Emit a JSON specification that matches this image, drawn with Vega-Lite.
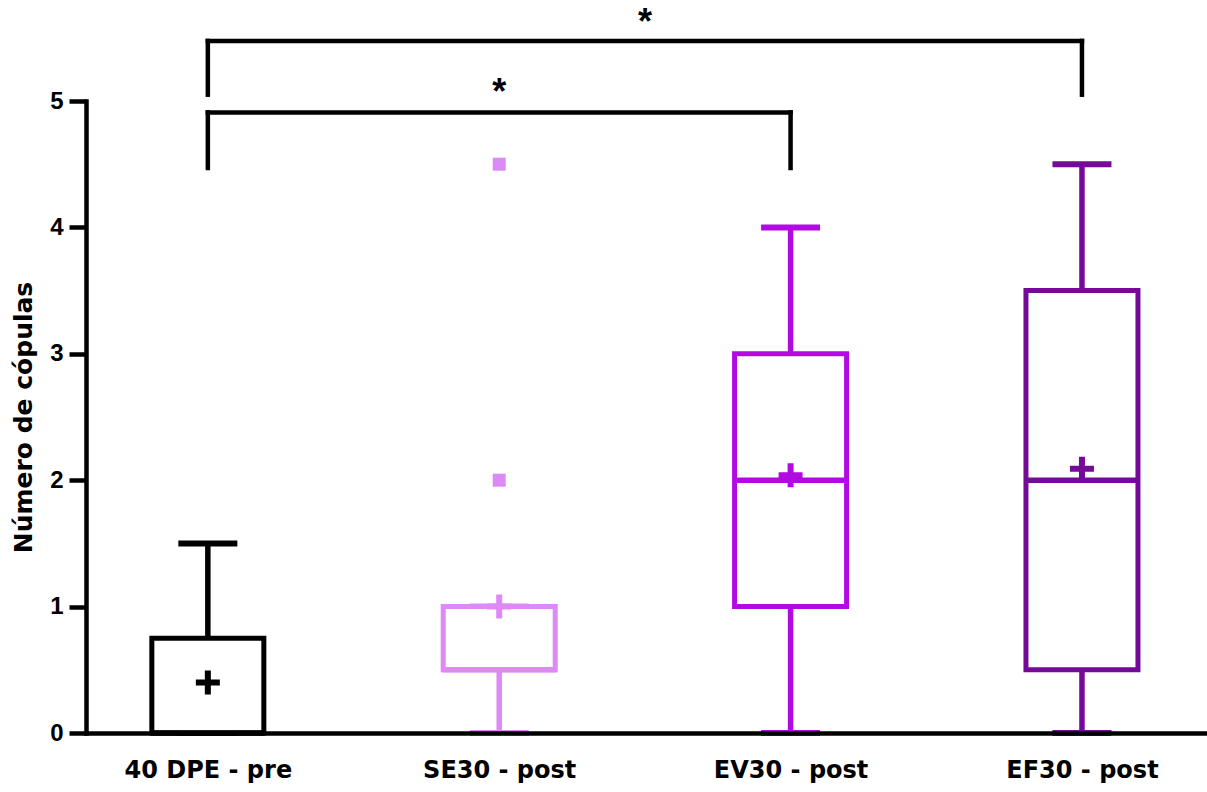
{
  "$schema": "https://vega.github.io/schema/vega-lite/v6.json",
  "width": 1121,
  "height": 632,
  "autosize": {"type": "none"},
  "padding": {"left": 86, "top": 101, "right": 0, "bottom": 59},
  "background": "white",
  "config": {"view": {"stroke": null}},
  "datasets": {
    "stats": [
      {"group": "40 DPE - pre", "i": 0, "min": 0, "q1": 0, "median": 0, "q3": 0.75, "max": 1.5, "mean": 0.4},
      {"group": "SE30 - post", "i": 1, "min": 0, "q1": 0.5, "median": 0.5, "q3": 1, "max": 1, "mean": 1.0},
      {"group": "EV30 - post", "i": 2, "min": 0, "q1": 1, "median": 2, "q3": 3, "max": 4, "mean": 2.04},
      {"group": "EF30 - post", "i": 3, "min": 0, "q1": 0.5, "median": 2, "q3": 3.5, "max": 4.5, "mean": 2.09}
    ],
    "outliers": [
      {"group": "SE30 - post", "i": 1, "value": 2},
      {"group": "SE30 - post", "i": 1, "value": 4.5}
    ],
    "brackets": [
      {"from": 0, "to": 3, "y": 5.475, "y2": 5.475},
      {"from": 0, "to": 0, "y": 5.05, "y2": 5.475},
      {"from": 3, "to": 3, "y": 5.05, "y2": 5.475},
      {"from": 0, "to": 2, "y": 4.91, "y2": 4.91},
      {"from": 0, "to": 0, "y": 4.47, "y2": 4.91},
      {"from": 2, "to": 2, "y": 4.47, "y2": 4.91}
    ],
    "stars": [
      {"i": 1.5, "y": 5.53, "label": "*"},
      {"i": 1, "y": 4.975, "label": "*"}
    ]
  },
  "layer": [
    {
      "data": {"name": "stats"},
      "mark": {"type": "rule", "strokeWidth": 5.5, "strokeCap": "butt"},
      "encoding": {
        "x": {
          "field": "i", "type": "quantitative",
          "scale": {"domain": [-0.401, 3.412], "nice": false, "zero": false},
          "axis": {
            "title": null, "values": [0, 1, 2, 3], "zindex": 1,
            "labelExpr": "['40 DPE - pre','SE30 - post','EV30 - post','EF30 - post'][datum.value]",
            "ticks": false, "tickSize": 0, "grid": false,
            "domainColor": "black", "domainWidth": 4.5, "domainCap": "square",
            "labelFont": "DejaVu Sans", "labelFontWeight": "bold", "labelFontSize": 24,
            "labelColor": "black", "labelPadding": 44, "labelBaseline": "alphabetic",
            "labelFlush": false, "labelOverlap": false
          }
        },
        "y": {
          "field": "q3", "type": "quantitative",
          "scale": {"domain": [0, 5], "nice": false},
          "axis": {
            "title": "Número de cópulas", "values": [0, 1, 2, 3, 4, 5], "format": "d", "zindex": 1,
            "grid": false, "tickSize": 17, "tickWidth": 4.5, "tickColor": "black",
            "domainColor": "black", "domainWidth": 4.5, "domainCap": "square",
            "labelFont": "Liberation Sans", "labelFontWeight": "bold", "labelFontSize": 24,
            "labelColor": "black", "labelPadding": 6, "labelFlush": false,
            "titleFont": "DejaVu Sans", "titleFontSize": 25, "titleFontWeight": "bold",
            "titleColor": "black", "titlePadding": 13
          }
        },
        "y2": {"field": "max"},
        "color": {
          "field": "group", "type": "nominal", "legend": null,
          "scale": {"domain": ["40 DPE - pre", "SE30 - post", "EV30 - post", "EF30 - post"], "range": ["#000000", "#DE8AF6", "#B00BE0", "#760A98"]}
        }
      }
    },
    {
      "data": {"name": "stats"},
      "mark": {"type": "rule", "strokeWidth": 5.5, "strokeCap": "butt"},
      "encoding": {
        "x": {"field": "i", "type": "quantitative"},
        "y": {"field": "min", "type": "quantitative"},
        "y2": {"field": "q1"},
        "color": {"field": "group", "type": "nominal", "legend": null}
      }
    },
    {
      "data": {"name": "stats"},
      "mark": {"type": "tick", "orient": "horizontal", "size": 59, "thickness": 6, "opacity": 1},
      "encoding": {
        "x": {"field": "i", "type": "quantitative"},
        "y": {"field": "max", "type": "quantitative"},
        "color": {"field": "group", "type": "nominal", "legend": null}
      }
    },
    {
      "data": {"name": "stats"},
      "mark": {"type": "tick", "orient": "horizontal", "size": 59, "thickness": 6, "opacity": 1},
      "encoding": {
        "x": {"field": "i", "type": "quantitative"},
        "y": {"field": "min", "type": "quantitative"},
        "color": {"field": "group", "type": "nominal", "legend": null}
      }
    },
    {
      "data": {"name": "stats"},
      "mark": {"type": "bar", "orient": "vertical", "width": 112, "fill": "white", "strokeWidth": 5, "opacity": 1},
      "encoding": {
        "x": {"field": "i", "type": "quantitative"},
        "y": {"field": "q1", "type": "quantitative"},
        "y2": {"field": "q3"},
        "stroke": {
          "field": "group", "type": "nominal", "legend": null,
          "scale": {"domain": ["40 DPE - pre", "SE30 - post", "EV30 - post", "EF30 - post"], "range": ["#000000", "#DE8AF6", "#B00BE0", "#760A98"]}
        }
      }
    },
    {
      "data": {"name": "stats"},
      "mark": {"type": "tick", "orient": "horizontal", "size": 114, "thickness": 5.5, "opacity": 1},
      "encoding": {
        "x": {"field": "i", "type": "quantitative"},
        "y": {"field": "median", "type": "quantitative"},
        "color": {"field": "group", "type": "nominal", "legend": null}
      }
    },
    {
      "data": {"name": "stats"},
      "mark": {"type": "point", "shape": "M-1,0H1M0,-1V1", "filled": false, "size": 576, "strokeWidth": 6, "strokeCap": "butt", "opacity": 1},
      "encoding": {
        "x": {"field": "i", "type": "quantitative"},
        "y": {"field": "mean", "type": "quantitative"},
        "color": {"field": "group", "type": "nominal", "legend": null}
      }
    },
    {
      "data": {"name": "outliers"},
      "mark": {"type": "point", "shape": "square", "filled": true, "size": 169, "opacity": 1},
      "encoding": {
        "x": {"field": "i", "type": "quantitative"},
        "y": {"field": "value", "type": "quantitative"},
        "color": {"field": "group", "type": "nominal", "legend": null}
      }
    },
    {
      "data": {"name": "brackets"},
      "mark": {"type": "rule", "color": "black", "strokeWidth": 4.5, "strokeCap": "square"},
      "encoding": {
        "x": {"field": "from", "type": "quantitative"},
        "x2": {"field": "to"},
        "y": {"field": "y", "type": "quantitative"},
        "y2": {"field": "y2"}
      }
    },
    {
      "data": {"name": "stars"},
      "mark": {"type": "text", "font": "Liberation Sans", "fontWeight": "bold", "fontSize": 36, "baseline": "alphabetic", "align": "center", "color": "black"},
      "encoding": {
        "x": {"field": "i", "type": "quantitative"},
        "y": {"field": "y", "type": "quantitative"},
        "text": {"field": "label"}
      }
    }
  ]
}
